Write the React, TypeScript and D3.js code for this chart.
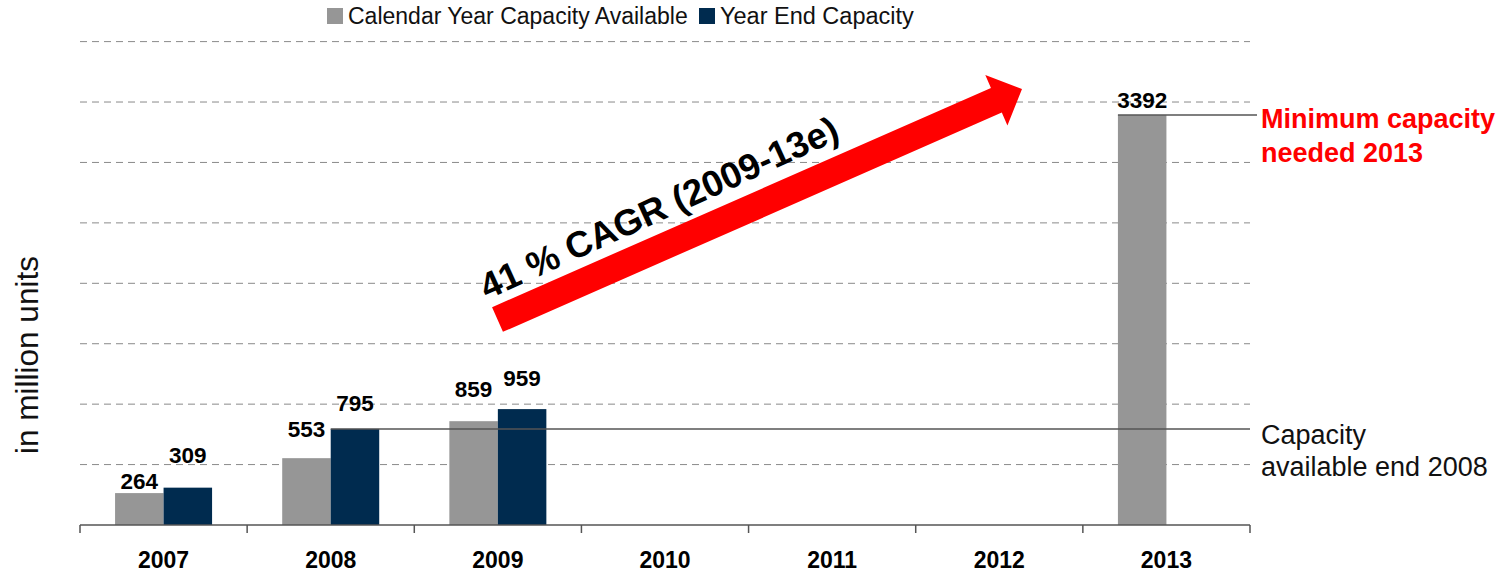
import React from "react";
import * as d3 from "d3";

const years = ["2007", "2008", "2009", "2010", "2011", "2012", "2013"];
const calendarCapacity = [264, 553, 859, null, null, null, 3392];
const yearEndCapacity = [309, 795, 959, null, null, null, null];
const gridValues = [500, 1000, 1500, 2000, 2500, 3000, 3500, 4000];
const seriesNames = ["Calendar Year Capacity Available", "Year End Capacity"];

// label nudges (px above bar top), hand placed like the original
const calLabelGap = [4, 21, 24, 0, 0, 0, 7];
const endLabelGap = [25, 18, 23, 0, 0, 0, 0];

const GRAY = "#969696";
const NAVY = "#002b4f";
const FONT = "'Liberation Sans', Arial, sans-serif";

const W = 1503;
const H = 572;
const left = 80;
const right = 1250;
const bottom = 525;
const top = 41.6;

export default function App() {
  const x = d3.scaleBand<string>().domain(years).range([left, right]).paddingInner(0);
  const inner = d3
    .scaleBand<string>()
    .domain(["cal", "end"])
    .range([0, x.bandwidth()])
    .paddingInner(0)
    .paddingOuter(0.723);
  const y = d3.scaleLinear().domain([0, 4000]).range([bottom, top]);

  const bw = inner.bandwidth();

  // arrow geometry
  const tail = [497.5, 319.5];
  const tip = [1022, 89];
  const dx = tip[0] - tail[0];
  const dy = tip[1] - tail[1];
  const len = Math.hypot(dx, dy);
  const ux = dx / len, uy = dy / len;
  const nx = -uy, ny = ux;
  const shaftHalf = 13.5, headHalf = 27.5, headLen = 28;
  const bx = tip[0] - headLen * ux, by = tip[1] - headLen * uy;
  const arrowPts = [
    [tail[0] + shaftHalf * nx, tail[1] + shaftHalf * ny],
    [bx + shaftHalf * nx, by + shaftHalf * ny],
    [bx + headHalf * nx, by + headHalf * ny],
    tip,
    [bx - headHalf * nx, by - headHalf * ny],
    [bx - shaftHalf * nx, by - shaftHalf * ny],
    [tail[0] - shaftHalf * nx, tail[1] - shaftHalf * ny],
  ];

  const endLineX = (x("2008") as number) + (inner("end") as number);
  const minLineX = (x("2013") as number) + (inner("cal") as number);

  return (
    <svg width={W} height={H} style={{ position: "absolute", left: 0, top: 0, background: "#fff" }} fontFamily={FONT}>
      {/* legend */}
      <rect x={327} y={8} width={16} height={16} fill={GRAY} />
      <text x={348} y={24} fontSize={23} fill="#111">{seriesNames[0]}</text>
      <rect x={699} y={8} width={16} height={16} fill={NAVY} />
      <text x={720} y={24} fontSize={23.5} fill="#111">{seriesNames[1]}</text>

      {/* gridlines */}
      {gridValues.map((v) => (
        <line key={v} x1={left} x2={right} y1={y(v)} y2={y(v)} stroke="#8a8a8a" strokeWidth={1} strokeDasharray="7,5" />
      ))}

      {/* bars */}
      {years.map((yr, i) => {
        const x0 = x(yr) as number;
        const c = calendarCapacity[i];
        const e = yearEndCapacity[i];
        return (
          <g key={yr}>
            {c != null && (
              <rect x={x0 + (inner("cal") as number)} y={y(c)} width={bw} height={bottom - y(c)} fill={GRAY} />
            )}
            {e != null && (
              <rect x={x0 + (inner("end") as number)} y={y(e)} width={bw} height={bottom - y(e)} fill={NAVY} />
            )}
          </g>
        );
      })}

      {/* reference lines */}
      <line x1={endLineX} x2={right} y1={y(yearEndCapacity[1] as number)} y2={y(yearEndCapacity[1] as number)} stroke="#555" strokeWidth={1.5} />
      <line x1={minLineX} x2={1257} y1={y(calendarCapacity[6] as number)} y2={y(calendarCapacity[6] as number)} stroke="#555" strokeWidth={1.5} />

      {/* value labels */}
      {years.map((yr, i) => {
        const x0 = x(yr) as number;
        const c = calendarCapacity[i];
        const e = yearEndCapacity[i];
        return (
          <g key={"l" + yr} fontSize={22.5} fontWeight="bold" textAnchor="middle" fill="#000">
            {c != null && (
              <text x={x0 + (inner("cal") as number) + bw / 2} y={y(c) - calLabelGap[i]}>{c}</text>
            )}
            {e != null && (
              <text x={x0 + (inner("end") as number) + bw / 2} y={y(e) - endLabelGap[i]}>{e}</text>
            )}
          </g>
        );
      })}

      {/* x axis */}
      <line x1={left} x2={right} y1={bottom} y2={bottom} stroke="#555" strokeWidth={1.5} />
      {[...years.map((yr) => x(yr) as number), right].map((t, i) => (
        <line key={i} x1={t} x2={t} y1={bottom} y2={bottom + 8} stroke="#555" strokeWidth={1.5} />
      ))}
      {years.map((yr) => (
        <text key={yr} x={(x(yr) as number) + x.bandwidth() / 2} y={568} fontSize={23} fontWeight="bold" textAnchor="middle">
          {yr}
        </text>
      ))}

      {/* y axis title */}
      <text transform="translate(38,355) rotate(-90)" fontSize={31.5} textAnchor="middle" fill="#111">
        in million units
      </text>

      {/* arrow + CAGR */}
      <polygon points={arrowPts.map((p) => p.join(",")).join(" ")} fill="#ff0000" />
      <text transform="translate(487,300) rotate(-24.5)" fontSize={36.5} fontWeight="bold" fill="#000">
        41 % CAGR (2009-13e)
      </text>

      {/* right annotations */}
      <text x={1261} y={128} fontSize={27} fontWeight="bold" fill="#ff0000">Minimum capacity</text>
      <text x={1261} y={162} fontSize={27} fontWeight="bold" fill="#ff0000">needed 2013</text>
      <text x={1261} y={444} fontSize={27} fill="#111">Capacity</text>
      <text x={1261} y={476} fontSize={27} fill="#111">available end 2008</text>
    </svg>
  );
}
